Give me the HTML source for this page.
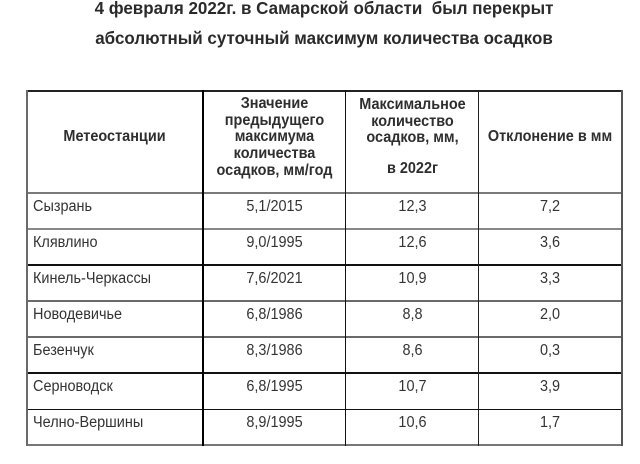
<!DOCTYPE html>
<html>
<head>
<meta charset="utf-8">
<style>
  html,body{margin:0;padding:0;background:#fff;}
  body{width:640px;height:464px;position:relative;overflow:hidden;font-family:"Liberation Sans",Arial,sans-serif;color:#333;}
  .t{position:absolute;white-space:nowrap;}
  .title{left:0;width:648px;text-align:center;font-weight:bold;font-size:17.5px;line-height:20px;color:#2a2a2a;transform:scaleX(0.97);transform-origin:324px 0;}
  .h{position:absolute;text-align:center;font-weight:bold;font-size:15.3px;line-height:16.7px;white-space:nowrap;color:#2e2e2e;transform:scaleX(0.945);}
  .hl{position:absolute;left:26px;width:596px;}
  .vl{position:absolute;top:90px;height:356px;}
  .c{position:absolute;font-size:15.3px;line-height:17px;white-space:nowrap;color:#333;transform:scaleX(0.945);}
  .c1{left:33px;transform-origin:0 0;}
  .c2{left:203px;width:143px;text-align:center;}
  .c3{left:346px;width:133px;text-align:center;}
  .c4{left:479px;width:142px;text-align:center;}
</style>
</head>
<body>
  <div class="t title" style="top:-2px;">4 февраля 2022г. в Самарской области&nbsp; был перекрыт</div>
  <div class="t title" style="top:28px;">абсолютный суточный максимум количества осадков</div>

  <!-- horizontal lines -->
  <div class="hl" style="top:90px;height:2px;background:#222;"></div>
  <div class="hl" style="top:192px;height:2px;background:#7a7a7a;"></div>
  <div class="hl" style="top:228px;height:2px;background:#888;"></div>
  <div class="hl" style="top:264px;height:2px;background:#111;"></div>
  <div class="hl" style="top:300px;height:2px;background:#6a6a6a;"></div>
  <div class="hl" style="top:336px;height:2px;background:#6a6a6a;"></div>
  <div class="hl" style="top:372px;height:2px;background:#111;"></div>
  <div class="hl" style="top:409px;height:1px;background:#111;"></div>
  <div class="hl" style="top:444px;height:2px;background:#777;"></div>

  <!-- vertical lines -->
  <div class="vl" style="left:26px;width:2px;background:#6a6a6a;"></div>
  <div class="vl" style="left:202px;width:2px;background:#000;"></div>
  <div class="vl" style="left:345px;width:1px;background:#111;"></div>
  <div class="vl" style="left:478px;width:1px;background:#222;"></div>
  <div class="vl" style="left:621px;width:2px;background:#555;"></div>

  <!-- header -->
  <div class="h" style="left:26px;width:177px;top:129px;">Метеостанции</div>
  <div class="h" style="left:203px;width:143px;top:96px;">Значение<br>предыдущего<br>максимума<br>количества<br>осадков, мм/год</div>
  <div class="h" style="left:346px;width:133px;top:97px;">Максимальное<br>количество<br>осадков, мм,</div>
  <div class="h" style="left:346px;width:133px;top:161px;">в 2022г</div>
  <div class="h" style="left:479px;width:142px;top:129px;">Отклонение в мм</div>

  <!-- rows -->
  <div class="c c1" style="top:198px;">Сызрань</div>
  <div class="c c2" style="top:198px;">5,1/2015</div>
  <div class="c c3" style="top:198px;">12,3</div>
  <div class="c c4" style="top:198px;">7,2</div>

  <div class="c c1" style="top:234px;">Клявлино</div>
  <div class="c c2" style="top:234px;">9,0/1995</div>
  <div class="c c3" style="top:234px;">12,6</div>
  <div class="c c4" style="top:234px;">3,6</div>

  <div class="c c1" style="top:270px;">Кинель-Черкассы</div>
  <div class="c c2" style="top:270px;">7,6/2021</div>
  <div class="c c3" style="top:270px;">10,9</div>
  <div class="c c4" style="top:270px;">3,3</div>

  <div class="c c1" style="top:306px;">Новодевичье</div>
  <div class="c c2" style="top:306px;">6,8/1986</div>
  <div class="c c3" style="top:306px;">8,8</div>
  <div class="c c4" style="top:306px;">2,0</div>

  <div class="c c1" style="top:342px;">Безенчук</div>
  <div class="c c2" style="top:342px;">8,3/1986</div>
  <div class="c c3" style="top:342px;">8,6</div>
  <div class="c c4" style="top:342px;">0,3</div>

  <div class="c c1" style="top:378px;">Серноводск</div>
  <div class="c c2" style="top:378px;">6,8/1995</div>
  <div class="c c3" style="top:378px;">10,7</div>
  <div class="c c4" style="top:378px;">3,9</div>

  <div class="c c1" style="top:414px;">Челно-Вершины</div>
  <div class="c c2" style="top:414px;">8,9/1995</div>
  <div class="c c3" style="top:414px;">10,6</div>
  <div class="c c4" style="top:414px;">1,7</div>
</body>
</html>
